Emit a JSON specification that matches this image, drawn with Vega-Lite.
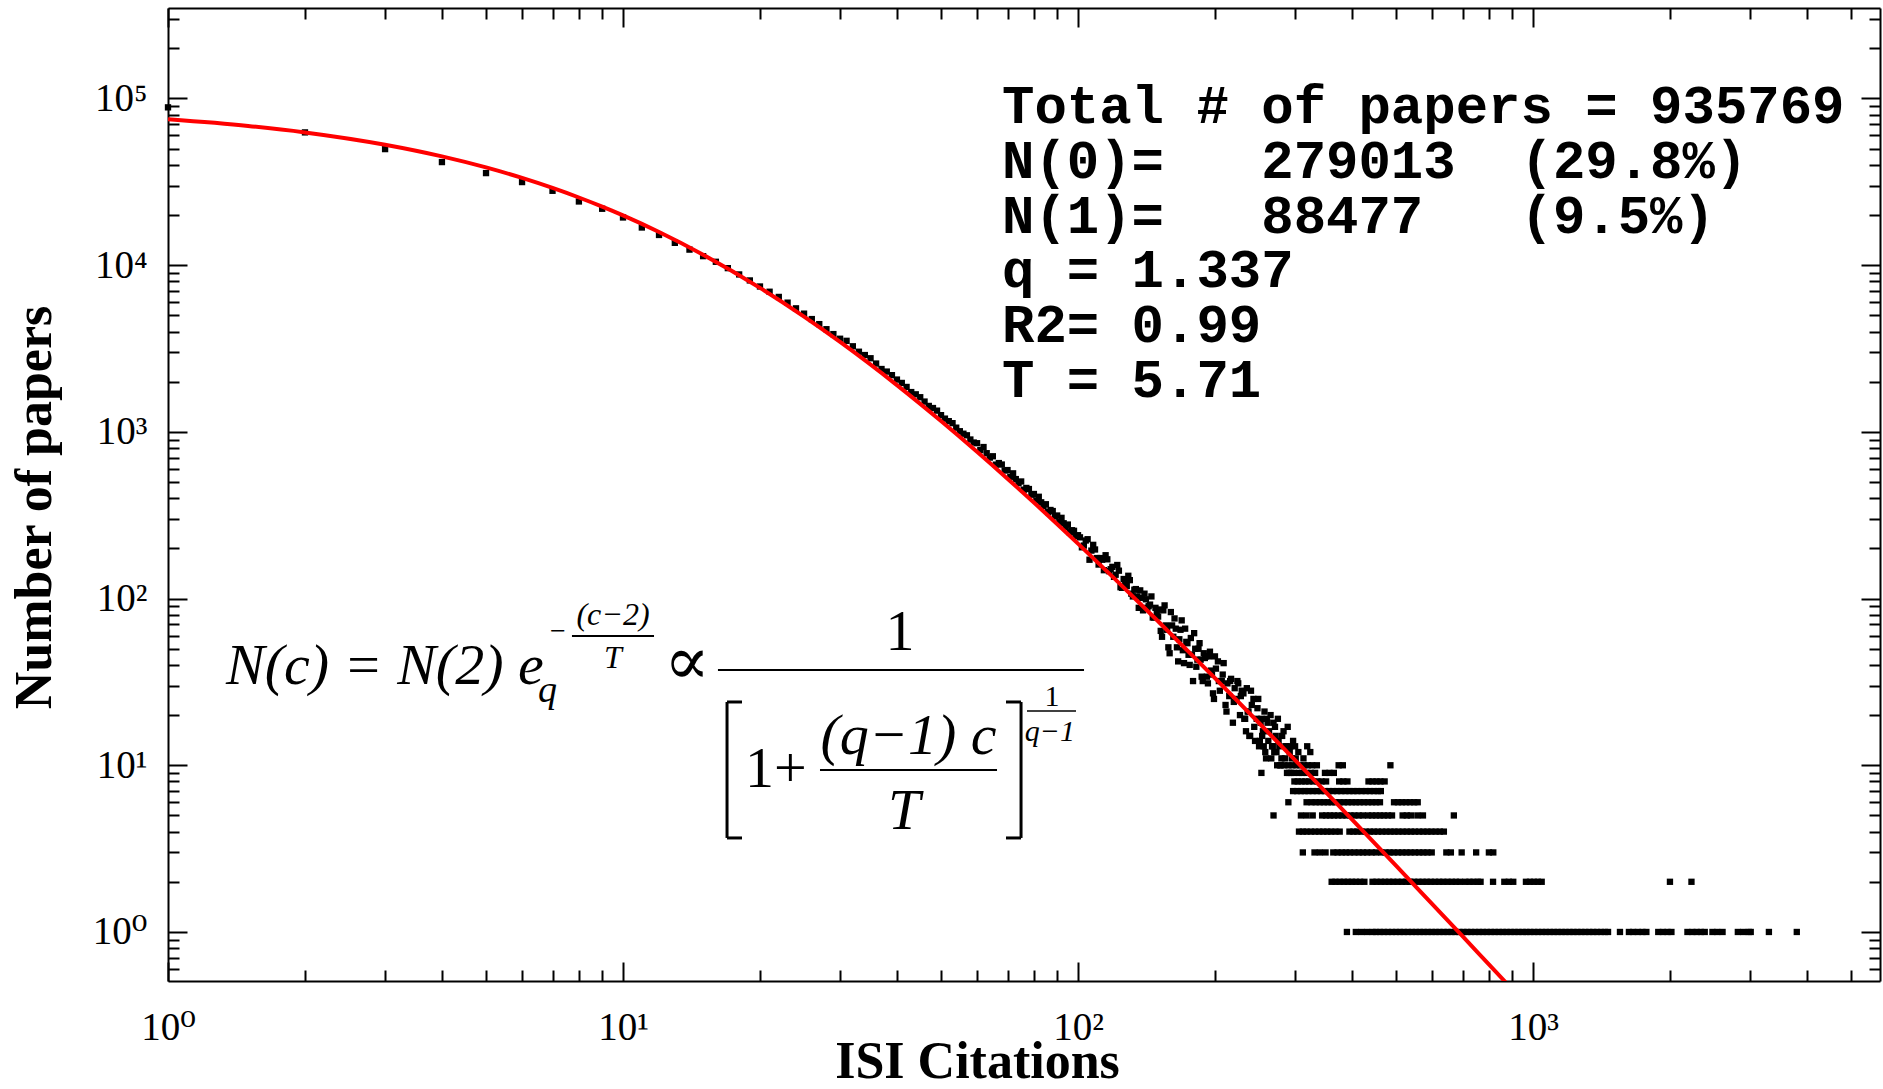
{
  "$schema": "https://vega.github.io/schema/vega-lite/v6.json",
  "width": 1712,
  "height": 973,
  "autosize": {"type": "none"},
  "padding": {"left": 168, "top": 8, "right": 3, "bottom": 108},
  "background": "white",
  "config": {"view": {"stroke": null}},
  "datasets": {
    "pts": [
      {"c":1,"n":88477},{"c":2,"n":62600},{"c":3,"n":49700},{"c":4,"n":41550},{"c":5,"n":35680},{"c":6,"n":31520},{"c":7,"n":27940},{"c":8,"n":24110},{"c":9,"n":21800},{"c":10,"n":19330},{"c":11,"n":16830},{"c":12,"n":15180},{"c":13,"n":13620},{"c":14,"n":12400},{"c":15,"n":11330},{"c":16,"n":10480},{"c":17,"n":9600},{"c":18,"n":8800},{"c":19,"n":8100},{"c":20,"n":7450},{"c":21,"n":6930},{"c":22,"n":6450},{"c":23,"n":5960},{"c":24,"n":5510},{"c":25,"n":5120},{"c":26,"n":4750},{"c":27,"n":4430},{"c":28,"n":4130},{"c":29,"n":3860},{"c":30,"n":3620},
      {"c":31,"n":3518},{"c":32,"n":3262},{"c":33,"n":3026},{"c":34,"n":2890},{"c":35,"n":2765},{"c":36,"n":2570},{"c":37,"n":2383},{"c":38,"n":2300},{"c":39,"n":2189},{"c":40,"n":2060},{"c":41,"n":1966},{"c":42,"n":1860},{"c":43,"n":1733},{"c":44,"n":1680},{"c":45,"n":1614},{"c":46,"n":1520},{"c":47,"n":1431},{"c":48,"n":1390},{"c":49,"n":1341},{"c":50,"n":1260},{"c":51,"n":1201},{"c":52,"n":1160},{"c":53,"n":1128},{"c":54,"n":1060},{"c":55,"n":1009},{"c":56,"n":975},{"c":57,"n":954},{"c":58,"n":900},{"c":59,"n":863},
      {"c":60,"n":855},{"c":61,"n":777},{"c":62,"n":811},{"c":63,"n":745},{"c":64,"n":701},{"c":65,"n":714},{"c":66,"n":636},{"c":67,"n":650},{"c":68,"n":637},{"c":69,"n":587},{"c":70,"n":590},{"c":71,"n":538},{"c":72,"n":564},{"c":73,"n":521},{"c":74,"n":492},{"c":75,"n":504},{"c":76,"n":450},{"c":77,"n":461},{"c":78,"n":454},{"c":79,"n":420},{"c":80,"n":424},{"c":81,"n":388},{"c":82,"n":408},{"c":83,"n":378},{"c":84,"n":358},{"c":85,"n":368},{"c":86,"n":330},{"c":87,"n":340},{"c":88,"n":335},{"c":89,"n":311},{"c":90,"n":315},{"c":91,"n":289},{"c":92,"n":305},{"c":93,"n":283},{"c":94,"n":269},{"c":95,"n":278},{"c":96,"n":249},{"c":97,"n":257},{"c":98,"n":255},{"c":99,"n":237},{"c":100,"n":240},
      {"c":101,"n":233},{"c":102,"n":203},{"c":103,"n":208},{"c":104,"n":223},{"c":105,"n":227},{"c":106,"n":171},{"c":107,"n":194},{"c":108,"n":210},{"c":109,"n":197},{"c":110,"n":175},{"c":111,"n":160},{"c":112,"n":175},{"c":113,"n":171},{"c":114,"n":148},{"c":115,"n":182},{"c":116,"n":172},{"c":117,"n":146},{"c":118,"n":150},{"c":119,"n":155},{"c":120,"n":135},{"c":121,"n":139},{"c":122,"n":159},{"c":123,"n":147},{"c":124,"n":117},{"c":125,"n":116},{"c":126,"n":131},{"c":127,"n":126},{"c":128,"n":119},{"c":129,"n":137},{"c":130,"n":129},{"c":131,"n":107},{"c":132,"n":103},{"c":133,"n":113},{"c":134,"n":114},{"c":135,"n":103},{"c":136,"n":88},{"c":137,"n":112},{"c":138,"n":101},{"c":139,"n":85},{"c":140,"n":107},{"c":141,"n":99},{"c":142,"n":88},{"c":143,"n":90},{"c":144,"n":92},{"c":145,"n":103},{"c":146,"n":77},{"c":147,"n":77},{"c":148,"n":88},{"c":149,"n":82},{"c":150,"n":78},
      {"c":151,"n":86},{"c":152,"n":64},{"c":153,"n":59},{"c":154,"n":85},{"c":155,"n":91},{"c":156,"n":69},{"c":157,"n":65},{"c":158,"n":51},{"c":159,"n":47},{"c":160,"n":83},{"c":161,"n":69},{"c":162,"n":59},{"c":163,"n":76},{"c":164,"n":66},{"c":165,"n":51},{"c":166,"n":42},{"c":167,"n":57},{"c":168,"n":65},{"c":169,"n":74},{"c":170,"n":49},{"c":171,"n":41},{"c":172,"n":66},{"c":173,"n":55},{"c":174,"n":54},{"c":175,"n":46},{"c":176,"n":40},{"c":177,"n":58},{"c":178,"n":46},{"c":179,"n":32},{"c":180,"n":62},{"c":181,"n":50},{"c":182,"n":39},{"c":183,"n":43},{"c":184,"n":50},{"c":185,"n":54},{"c":186,"n":43},{"c":187,"n":34},{"c":188,"n":32},{"c":189,"n":47},{"c":190,"n":44},{"c":191,"n":45},{"c":192,"n":34},{"c":193,"n":31},{"c":194,"n":45},{"c":195,"n":48},{"c":196,"n":37},{"c":197,"n":35},{"c":198,"n":27},{"c":199,"n":25},{"c":200,"n":45},
      {"c":201,"n":38},{"c":203,"n":42},{"c":204,"n":32},{"c":205,"n":28},{"c":207,"n":32},{"c":208,"n":35},{"c":209,"n":41},{"c":211,"n":23},{"c":212,"n":21},{"c":213,"n":31},{"c":215,"n":26},{"c":216,"n":32},{"c":217,"n":33},{"c":219,"n":18},{"c":220,"n":24},{"c":221,"n":29},{"c":223,"n":25},{"c":224,"n":32},{"c":225,"n":31},{"c":227,"n":20},{"c":228,"n":26},{"c":229,"n":28},{"c":231,"n":27},{"c":232,"n":19},{"c":233,"n":19},{"c":234,"n":16},{"c":235,"n":29},{"c":236,"n":21},{"c":237,"n":21},{"c":238,"n":15},{"c":239,"n":15},{"c":240,"n":28},{"c":241,"n":23},{"c":243,"n":25},{"c":244,"n":17},{"c":245,"n":14},{"c":247,"n":19},{"c":248,"n":22},{"c":249,"n":25},{"c":250,"n":13},{"c":251,"n":14},{"c":252,"n":18},{"c":253,"n":19},{"c":254,"n":15},{"c":255,"n":16},{"c":256,"n":13},{"c":257,"n":21},{"c":258,"n":12},{"c":259,"n":11},{"c":260,"n":19},{"c":261,"n":18},{"c":262,"n":14},{"c":263,"n":16},{"c":265,"n":20},{"c":266,"n":11},{"c":267,"n":13},{"c":268,"n":13},{"c":269,"n":18},{"c":270,"n":12},{"c":271,"n":17},{"c":272,"n":15},{"c":273,"n":12},{"c":275,"n":19},{"c":276,"n":14},{"c":277,"n":13},{"c":279,"n":10},{"c":280,"n":11},{"c":281,"n":15},{"c":283,"n":16},{"c":285,"n":11},{"c":286,"n":13},{"c":287,"n":13},{"c":289,"n":17},{"c":291,"n":9},{"c":292,"n":12},{"c":293,"n":13},{"c":295,"n":11},{"c":297,"n":14},{"c":299,"n":8},{"c":300,"n":13},{"c":301,"n":11},{"c":305,"n":12},{"c":313,"n":11},{"c":319,"n":13},{"c":324,"n":12},
      {"c":274,"n":10},{"c":278,"n":10},{"c":284,"n":10},{"c":290,"n":10},{"c":296,"n":10},{"c":302,"n":10},{"c":308,"n":10},{"c":314,"n":10},{"c":320,"n":10},{"c":327,"n":10},{"c":335,"n":10},{"c":374,"n":10},{"c":382,"n":10},{"c":486,"n":10},
      {"c":253,"n":9},{"c":288,"n":9},{"c":294,"n":9},{"c":298,"n":9},{"c":306,"n":9},{"c":311,"n":9},{"c":318,"n":9},{"c":325,"n":9},{"c":332,"n":9},{"c":349,"n":9},{"c":357,"n":9},{"c":365,"n":9},
      {"c":304,"n":8},{"c":310,"n":8},{"c":316,"n":8},{"c":322,"n":8},{"c":329,"n":8},{"c":336,"n":8},{"c":343,"n":8},{"c":351,"n":8},{"c":375,"n":8},{"c":383,"n":8},{"c":391,"n":8},{"c":435,"n":8},{"c":444,"n":8},{"c":453,"n":8},{"c":462,"n":8},{"c":472,"n":8},
      {"c":297,"n":7},{"c":303,"n":7},{"c":309,"n":7},{"c":315,"n":7},{"c":321,"n":7},{"c":328,"n":7},{"c":335,"n":7},{"c":342,"n":7},{"c":349,"n":7},{"c":356,"n":7},{"c":363,"n":7},{"c":371,"n":7},{"c":379,"n":7},{"c":387,"n":7},{"c":395,"n":7},{"c":403,"n":7},{"c":411,"n":7},{"c":420,"n":7},{"c":429,"n":7},{"c":438,"n":7},{"c":447,"n":7},{"c":456,"n":7},{"c":463,"n":7},
      {"c":290,"n":6},{"c":318,"n":6},{"c":326,"n":6},{"c":333,"n":6},{"c":340,"n":6},{"c":347,"n":6},{"c":354,"n":6},{"c":361,"n":6},{"c":368,"n":6},{"c":376,"n":6},{"c":384,"n":6},{"c":392,"n":6},{"c":400,"n":6},{"c":408,"n":6},{"c":416,"n":6},{"c":425,"n":6},{"c":434,"n":6},{"c":443,"n":6},{"c":452,"n":6},{"c":461,"n":6},{"c":495,"n":6},{"c":505,"n":6},{"c":515,"n":6},{"c":526,"n":6},{"c":537,"n":6},{"c":548,"n":6},{"c":558,"n":6},
      {"c":269,"n":5},{"c":309,"n":5},{"c":318,"n":5},{"c":328,"n":5},{"c":344,"n":5},{"c":351,"n":5},{"c":358,"n":5},{"c":365,"n":5},{"c":373,"n":5},{"c":381,"n":5},{"c":389,"n":5},{"c":397,"n":5},{"c":405,"n":5},{"c":414,"n":5},{"c":423,"n":5},{"c":434,"n":5},{"c":443,"n":5},{"c":452,"n":5},{"c":461,"n":5},{"c":470,"n":5},{"c":480,"n":5},{"c":490,"n":5},{"c":517,"n":5},{"c":528,"n":5},{"c":539,"n":5},{"c":557,"n":5},{"c":573,"n":5},{"c":670,"n":5},
      {"c":306,"n":4},{"c":312,"n":4},{"c":318,"n":4},{"c":325,"n":4},{"c":332,"n":4},{"c":339,"n":4},{"c":346,"n":4},{"c":353,"n":4},{"c":360,"n":4},{"c":368,"n":4},{"c":376,"n":4},{"c":395,"n":4},{"c":403,"n":4},{"c":411,"n":4},{"c":420,"n":4},{"c":429,"n":4},{"c":438,"n":4},{"c":447,"n":4},{"c":456,"n":4},{"c":466,"n":4},{"c":476,"n":4},{"c":486,"n":4},{"c":496,"n":4},{"c":506,"n":4},{"c":517,"n":4},{"c":528,"n":4},{"c":539,"n":4},{"c":550,"n":4},{"c":562,"n":4},{"c":574,"n":4},{"c":586,"n":4},{"c":598,"n":4},{"c":611,"n":4},{"c":624,"n":4},{"c":637,"n":4},
      {"c":312,"n":3},{"c":331,"n":3},{"c":340,"n":3},{"c":350,"n":3},{"c":364,"n":3},{"c":372,"n":3},{"c":380,"n":3},{"c":388,"n":3},{"c":396,"n":3},{"c":405,"n":3},{"c":414,"n":3},{"c":423,"n":3},{"c":432,"n":3},{"c":442,"n":3},{"c":452,"n":3},{"c":464,"n":3},{"c":474,"n":3},{"c":484,"n":3},{"c":494,"n":3},{"c":505,"n":3},{"c":516,"n":3},{"c":527,"n":3},{"c":538,"n":3},{"c":550,"n":3},{"c":562,"n":3},{"c":574,"n":3},{"c":586,"n":3},{"c":599,"n":3},{"c":645,"n":3},{"c":660,"n":3},{"c":697,"n":3},{"c":750,"n":3},{"c":800,"n":3},{"c":818,"n":3},
      {"c":361,"n":2},{"c":368,"n":2},{"c":376,"n":2},{"c":384,"n":2},{"c":392,"n":2},{"c":400,"n":2},{"c":408,"n":2},{"c":417,"n":2},{"c":426,"n":2},{"c":444,"n":2},{"c":453,"n":2},{"c":463,"n":2},{"c":473,"n":2},{"c":483,"n":2},{"c":493,"n":2},{"c":504,"n":2},{"c":515,"n":2},{"c":526,"n":2},{"c":537,"n":2},{"c":548,"n":2},{"c":560,"n":2},{"c":572,"n":2},{"c":584,"n":2},{"c":596,"n":2},{"c":609,"n":2},{"c":622,"n":2},{"c":635,"n":2},{"c":649,"n":2},{"c":663,"n":2},{"c":677,"n":2},{"c":691,"n":2},{"c":710,"n":2},{"c":725,"n":2},{"c":740,"n":2},{"c":756,"n":2},{"c":767,"n":2},{"c":817,"n":2},{"c":865,"n":2},{"c":885,"n":2},{"c":905,"n":2},{"c":965,"n":2},{"c":985,"n":2},{"c":1005,"n":2},{"c":1025,"n":2},{"c":1045,"n":2},{"c":2000,"n":2},{"c":2230,"n":2},
      {"c":390,"n":1},{"c":408,"n":1},{"c":420,"n":1},{"c":432,"n":1},{"c":444,"n":1},{"c":452,"n":1},{"c":461,"n":1},{"c":470,"n":1},{"c":480,"n":1},{"c":490,"n":1},{"c":500,"n":1},{"c":510,"n":1},{"c":520,"n":1},{"c":531,"n":1},{"c":542,"n":1},{"c":553,"n":1},{"c":564,"n":1},{"c":575,"n":1},{"c":587,"n":1},{"c":599,"n":1},{"c":611,"n":1},{"c":623,"n":1},{"c":636,"n":1},{"c":649,"n":1},{"c":662,"n":1},{"c":675,"n":1},{"c":689,"n":1},{"c":703,"n":1},{"c":717,"n":1},{"c":731,"n":1},{"c":746,"n":1},{"c":761,"n":1},{"c":776,"n":1},{"c":792,"n":1},{"c":808,"n":1},{"c":824,"n":1},{"c":841,"n":1},{"c":858,"n":1},{"c":875,"n":1},{"c":893,"n":1},{"c":911,"n":1},{"c":929,"n":1},{"c":948,"n":1},{"c":967,"n":1},{"c":986,"n":1},{"c":1006,"n":1},{"c":1026,"n":1},{"c":1047,"n":1},{"c":1068,"n":1},{"c":1089,"n":1},{"c":1111,"n":1},{"c":1133,"n":1},{"c":1156,"n":1},{"c":1179,"n":1},{"c":1203,"n":1},{"c":1227,"n":1},{"c":1252,"n":1},{"c":1277,"n":1},{"c":1303,"n":1},{"c":1329,"n":1},{"c":1356,"n":1},{"c":1383,"n":1},{"c":1411,"n":1},{"c":1439,"n":1},{"c":1462,"n":1},{"c":1553,"n":1},{"c":1625,"n":1},{"c":1660,"n":1},{"c":1700,"n":1},{"c":1740,"n":1},{"c":1775,"n":1},{"c":1885,"n":1},{"c":1930,"n":1},{"c":1975,"n":1},{"c":2015,"n":1},{"c":2185,"n":1},{"c":2240,"n":1},{"c":2290,"n":1},{"c":2340,"n":1},{"c":2385,"n":1},{"c":2480,"n":1},{"c":2540,"n":1},{"c":2610,"n":1},{"c":2820,"n":1},{"c":2900,"n":1},{"c":2980,"n":1},{"c":3010,"n":1},{"c":3300,"n":1},{"c":3800,"n":1}
    ],
    "fit": [
      {"c":1,"n":74990},{"c":1.5,"n":68430},{"c":2,"n":62600},{"c":3,"n":52800},{"c":4,"n":44950},{"c":5,"n":38600},{"c":6,"n":33380},{"c":7,"n":29070},{"c":8,"n":25470},{"c":9,"n":22440},{"c":10,"n":19880},{"c":12,"n":15808},{"c":15,"n":11558},{"c":20,"n":7310},{"c":25,"n":4915},{"c":30,"n":3464},{"c":40,"n":1909},{"c":50,"n":1162},{"c":60,"n":759.9},{"c":70,"n":524},{"c":80,"n":376.6},{"c":100,"n":213.5},{"c":120,"n":132.7},{"c":150,"n":73.1},{"c":200,"n":33.3},{"c":250,"n":17.93},{"c":300,"n":10.74},{"c":400,"n":4.74},{"c":500,"n":2.5},{"c":600,"n":1.474},{"c":700,"n":0.943},{"c":800,"n":0.639},{"c":870,"n":0.5006}
    ]
  },
  "layer": [
    {
      "data": {"name": "pts"},
      "mark": {"type": "square", "size": 40, "color": "#000000", "opacity": 1, "filled": true},
      "encoding": {
        "x": {
          "field": "c", "type": "quantitative",
          "scale": {"type": "log", "domain": [1, 5790], "nice": false},
          "axis": {
            "orient": "bottom", "grid": false,
            "values": [1,2,3,4,5,6,7,8,9,10,20,30,40,50,60,70,80,90,100,200,300,400,500,600,700,800,900,1000,2000,3000,4000,5000],
            "labelExpr": "datum.value == 1 ? '10\u2070' : datum.value == 10 ? '10\u00b9' : datum.value == 100 ? '10\u00b2' : datum.value == 1000 ? '10\u00b3' : datum.value == 10000 ? '10\u2074' : datum.value == 100000 ? '10\u2075' : ''",
            "domainColor": "#000000", "domainWidth": 2, "tickColor": "#000000", "tickWidth": 2,
            "tickSize": {"condition": {"test": "datum.value == 1 || datum.value == 10 || datum.value == 100 || datum.value == 1000", "value": -19}, "value": -11},
            "labelFont": "Liberation Serif, DejaVu Serif", "labelFontSize": 39, "labelColor": "#000000",
            "labelPadding": 77, "labelBaseline": "alphabetic", "labelOverlap": false, "labelFlush": false,
            "title": "ISI Citations", "titleFont": "Liberation Serif", "titleFontSize": 52, "titleFontWeight": "bold", "titleColor": "#000000",
            "titleX": 809, "titleY": 96, "titleBaseline": "alphabetic", "titleAlign": "center"
          }
        },
        "y": {
          "field": "n", "type": "quantitative",
          "scale": {"type": "log", "domain": [0.508, 349000], "nice": false},
          "axis": {
            "orient": "left", "grid": false,
            "values": [0.6,0.7,0.8,0.9,1,2,3,4,5,6,7,8,9,10,20,30,40,50,60,70,80,90,100,200,300,400,500,600,700,800,900,1000,2000,3000,4000,5000,6000,7000,8000,9000,10000,20000,30000,40000,50000,60000,70000,80000,90000,100000,200000,300000],
            "labelExpr": "datum.value == 1 ? '10\u2070' : datum.value == 10 ? '10\u00b9' : datum.value == 100 ? '10\u00b2' : datum.value == 1000 ? '10\u00b3' : datum.value == 10000 ? '10\u2074' : datum.value == 100000 ? '10\u2075' : ''",
            "domainColor": "#000000", "domainWidth": 2, "tickColor": "#000000", "tickWidth": 2,
            "tickSize": {"condition": {"test": "datum.value == 1 || datum.value == 10 || datum.value == 100 || datum.value == 1000 || datum.value == 10000 || datum.value == 100000", "value": -19}, "value": -11},
            "labelFont": "Liberation Serif, DejaVu Serif", "labelFontSize": 39, "labelColor": "#000000",
            "labelPadding": 40, "labelBaseline": "middle", "labelOverlap": false, "labelFlush": false,
            "title": "Number of papers", "titleFont": "Liberation Serif", "titleFontSize": 52, "titleFontWeight": "bold", "titleColor": "#000000",
            "titleAngle": 270, "titleX": -134, "titleY": 499, "titleBaseline": "middle", "titleAlign": "center"
          }
        }
      }
    },
    {
      "data": {"name": "fit"},
      "mark": {"type": "line", "color": "#ff0000", "strokeWidth": 4, "clip": true, "interpolate": "monotone"},
      "encoding": {
        "x": {
          "field": "c", "type": "quantitative",
          "scale": {"type": "log", "domain": [1, 5790], "nice": false},
          "axis": {
            "orient": "top", "grid": false, "labels": false, "title": null,
            "values": [1,2,3,4,5,6,7,8,9,10,20,30,40,50,60,70,80,90,100,200,300,400,500,600,700,800,900,1000,2000,3000,4000,5000],
            "domainColor": "#000000", "domainWidth": 2, "tickColor": "#000000", "tickWidth": 2,
            "tickSize": {"condition": {"test": "datum.value == 1 || datum.value == 10 || datum.value == 100 || datum.value == 1000", "value": -19}, "value": -11}
          }
        },
        "y": {
          "field": "n", "type": "quantitative",
          "scale": {"type": "log", "domain": [0.508, 349000], "nice": false},
          "axis": {
            "orient": "right", "grid": false, "labels": false, "title": null,
            "values": [0.6,0.7,0.8,0.9,1,2,3,4,5,6,7,8,9,10,20,30,40,50,60,70,80,90,100,200,300,400,500,600,700,800,900,1000,2000,3000,4000,5000,6000,7000,8000,9000,10000,20000,30000,40000,50000,60000,70000,80000,90000,100000,200000,300000],
            "domainColor": "#000000", "domainWidth": 2, "tickColor": "#000000", "tickWidth": 2,
            "tickSize": {"condition": {"test": "datum.value == 1 || datum.value == 10 || datum.value == 100 || datum.value == 1000 || datum.value == 10000 || datum.value == 100000", "value": -19}, "value": -11}
          }
        }
      }
    },
    {
      "data": {"values": [{"t": ["Total # of papers = 935769", "N(0)=\u00a0\u00a0\u00a0279013\u00a0\u00a0(29.8%)", "N(1)=\u00a0\u00a0\u00a088477\u00a0\u00a0\u00a0(9.5%)", "q = 1.337", "R2= 0.99", "T = 5.71"]}]},
      "mark": {"type": "text", "font": "Liberation Mono", "fontWeight": "bold", "fontSize": 54, "lineHeight": 54.7, "align": "left", "baseline": "alphabetic", "color": "#000000"},
      "encoding": {
        "x": {"datum": 68.07, "type": "quantitative", "axis": null},
        "y": {"datum": 71000, "type": "quantitative", "axis": null},
        "text": {"field": "t"}
      }
    },
    {
      "data": {"values": [{"t": "N(c) = N(2) e"}]},
      "mark": {"type": "text", "font": "Liberation Serif", "fontStyle": "italic", "fontSize": 58, "align": "left", "baseline": "alphabetic", "color": "#000000"},
      "encoding": {"x": {"datum": 1.341, "type": "quantitative", "axis": null}, "y": {"datum": 30.74, "type": "quantitative", "axis": null}, "text": {"field": "t"}}
    },
    {
      "data": {"values": [{"t": "q"}]},
      "mark": {"type": "text", "font": "Liberation Serif", "fontStyle": "italic", "fontSize": 38, "align": "left", "baseline": "alphabetic", "color": "#000000"},
      "encoding": {"x": {"datum": 6.505, "type": "quantitative", "axis": null}, "y": {"datum": 23.97, "type": "quantitative", "axis": null}, "text": {"field": "t"}}
    },
    {
      "data": {"values": [{"t": "\u2212"}]},
      "mark": {"type": "text", "font": "Liberation Serif", "fontSize": 28, "align": "left", "baseline": "middle", "color": "#000000"},
      "encoding": {"x": {"datum": 6.91, "type": "quantitative", "axis": null}, "y": {"datum": 63.0, "type": "quantitative", "axis": null}, "text": {"field": "t"}}
    },
    {
      "data": {"values": [{"t": "(c\u22122)"}]},
      "mark": {"type": "text", "font": "Liberation Serif", "fontStyle": "italic", "fontSize": 32, "align": "center", "baseline": "alphabetic", "color": "#000000"},
      "encoding": {"x": {"datum": 9.506, "type": "quantitative", "axis": null}, "y": {"datum": 69.43, "type": "quantitative", "axis": null}, "text": {"field": "t"}}
    },
    {
      "data": {"values": [{"t": "T"}]},
      "mark": {"type": "text", "font": "Liberation Serif", "fontStyle": "italic", "fontSize": 32, "align": "center", "baseline": "alphabetic", "color": "#000000"},
      "encoding": {"x": {"datum": 9.506, "type": "quantitative", "axis": null}, "y": {"datum": 38.34, "type": "quantitative", "axis": null}, "text": {"field": "t"}}
    },
    {
      "data": {"values": [{}]},
      "mark": {"type": "rule", "color": "#000000", "strokeWidth": 2},
      "encoding": {"x": {"datum": 7.724, "type": "quantitative", "axis": null}, "x2": {"datum": 11.7}, "y": {"datum": 59.66, "type": "quantitative", "axis": null}}
    },
    {
      "data": {"values": [{"t": "\u221d"}]},
      "mark": {"type": "text", "font": "Liberation Serif, DejaVu Serif", "fontSize": 68, "align": "left", "baseline": "middle", "color": "#000000"},
      "encoding": {"x": {"datum": 12.3, "type": "quantitative", "axis": null}, "y": {"datum": 40.5, "type": "quantitative", "axis": null}, "text": {"field": "t"}}
    },
    {
      "data": {"values": [{"t": "1"}]},
      "mark": {"type": "text", "font": "Liberation Serif", "fontSize": 58, "align": "center", "baseline": "alphabetic", "color": "#000000"},
      "encoding": {"x": {"datum": 40.62, "type": "quantitative", "axis": null}, "y": {"datum": 49.17, "type": "quantitative", "axis": null}, "text": {"field": "t"}}
    },
    {
      "data": {"values": [{}]},
      "mark": {"type": "rule", "color": "#000000", "strokeWidth": 2},
      "encoding": {"x": {"datum": 16.17, "type": "quantitative", "axis": null}, "x2": {"datum": 103.1}, "y": {"datum": 37.29, "type": "quantitative", "axis": null}}
    },
    {
      "data": {"values": [{}]},
      "mark": {"type": "rule", "color": "#000000", "strokeWidth": 3},
      "encoding": {"x": {"datum": 16.93, "type": "quantitative", "axis": null}, "y": {"datum": 3.664, "type": "quantitative", "axis": null}, "y2": {"datum": 23.97}}
    },
    {
      "data": {"values": [{}]},
      "mark": {"type": "rule", "color": "#000000", "strokeWidth": 3},
      "encoding": {"x": {"datum": 16.93, "type": "quantitative", "axis": null}, "x2": {"datum": 18.26}, "y": {"datum": 23.97, "type": "quantitative", "axis": null}}
    },
    {
      "data": {"values": [{}]},
      "mark": {"type": "rule", "color": "#000000", "strokeWidth": 3},
      "encoding": {"x": {"datum": 16.93, "type": "quantitative", "axis": null}, "x2": {"datum": 18.26}, "y": {"datum": 3.664, "type": "quantitative", "axis": null}}
    },
    {
      "data": {"values": [{"t": "1+"}]},
      "mark": {"type": "text", "font": "Liberation Serif", "fontSize": 58, "align": "left", "baseline": "alphabetic", "color": "#000000"},
      "encoding": {"x": {"datum": 18.54, "type": "quantitative", "axis": null}, "y": {"datum": 7.41, "type": "quantitative", "axis": null}, "text": {"field": "t"}}
    },
    {
      "data": {"values": [{"t": "(q\u22121) c"}]},
      "mark": {"type": "text", "font": "Liberation Serif", "fontStyle": "italic", "fontSize": 58, "align": "center", "baseline": "alphabetic", "color": "#000000"},
      "encoding": {"x": {"datum": 42.41, "type": "quantitative", "axis": null}, "y": {"datum": 11.69, "type": "quantitative", "axis": null}, "text": {"field": "t"}}
    },
    {
      "data": {"values": [{}]},
      "mark": {"type": "rule", "color": "#000000", "strokeWidth": 2},
      "encoding": {"x": {"datum": 27.1, "type": "quantitative", "axis": null}, "x2": {"datum": 66.38}, "y": {"datum": 9.372, "type": "quantitative", "axis": null}}
    },
    {
      "data": {"values": [{"t": "T"}]},
      "mark": {"type": "text", "font": "Liberation Serif", "fontStyle": "italic", "fontSize": 58, "align": "center", "baseline": "alphabetic", "color": "#000000"},
      "encoding": {"x": {"datum": 41.46, "type": "quantitative", "axis": null}, "y": {"datum": 4.148, "type": "quantitative", "axis": null}, "text": {"field": "t"}}
    },
    {
      "data": {"values": [{}]},
      "mark": {"type": "rule", "color": "#000000", "strokeWidth": 3},
      "encoding": {"x": {"datum": 74.96, "type": "quantitative", "axis": null}, "y": {"datum": 3.664, "type": "quantitative", "axis": null}, "y2": {"datum": 23.97}}
    },
    {
      "data": {"values": [{}]},
      "mark": {"type": "rule", "color": "#000000", "strokeWidth": 3},
      "encoding": {"x": {"datum": 69.47, "type": "quantitative", "axis": null}, "x2": {"datum": 74.96}, "y": {"datum": 23.97, "type": "quantitative", "axis": null}}
    },
    {
      "data": {"values": [{}]},
      "mark": {"type": "rule", "color": "#000000", "strokeWidth": 3},
      "encoding": {"x": {"datum": 69.47, "type": "quantitative", "axis": null}, "x2": {"datum": 74.96}, "y": {"datum": 3.664, "type": "quantitative", "axis": null}}
    },
    {
      "data": {"values": [{"t": "1"}]},
      "mark": {"type": "text", "font": "Liberation Serif", "fontSize": 30, "align": "center", "baseline": "alphabetic", "color": "#000000"},
      "encoding": {"x": {"datum": 87.68, "type": "quantitative", "axis": null}, "y": {"datum": 22.69, "type": "quantitative", "axis": null}, "text": {"field": "t"}}
    },
    {
      "data": {"values": [{}]},
      "mark": {"type": "rule", "color": "#000000", "strokeWidth": 1.5},
      "encoding": {"x": {"datum": 77.25, "type": "quantitative", "axis": null}, "x2": {"datum": 99.0}, "y": {"datum": 21.17, "type": "quantitative", "axis": null}}
    },
    {
      "data": {"values": [{"t": "q\u22121"}]},
      "mark": {"type": "text", "font": "Liberation Serif", "fontStyle": "italic", "fontSize": 30, "align": "center", "baseline": "alphabetic", "color": "#000000"},
      "encoding": {"x": {"datum": 86.79, "type": "quantitative", "axis": null}, "y": {"datum": 13.99, "type": "quantitative", "axis": null}, "text": {"field": "t"}}
    }
  ],
  "resolve": {"axis": {"x": "independent", "y": "independent"}}
}
